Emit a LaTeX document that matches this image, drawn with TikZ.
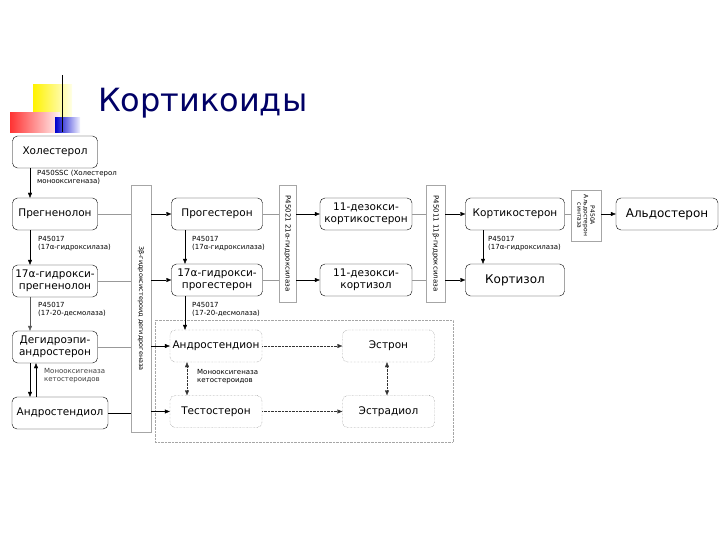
\documentclass[tikz,border=0pt]{standalone}
\usepackage{fontspec}
\setmainfont{DejaVu Sans}
\usetikzlibrary{arrows.meta}
\begin{document}
\begin{tikzpicture}[x=1pt,y=-1pt,
 box/.style={draw,rounded corners=5pt,minimum width=#1,minimum height=32pt,inner sep=1pt,align=center,font=\fontsize{10.5}{11.5}\selectfont},
 box/.default=90pt,
 dbox/.style={box=92pt,densely dotted,draw=gray!80!black},
 bar/.style={draw=gray!70,fill=white,inner sep=0pt},
 lab/.style={font=\fontsize{7}{8}\selectfont,align=left,anchor=north west,inner sep=0pt},
 ln/.style={draw=gray!80},
 ar/.style={-{Triangle[length=5pt,width=4pt]},black},
 dar/.style={{Triangle[length=5pt,width=4pt]}-{Triangle[length=5pt,width=4pt]},densely dotted,gray!40!black},
 dra/.style={-{Triangle[length=5pt,width=4pt]},densely dotted,gray!40!black}]
\useasboundingbox (0,0) rectangle (720,540);
% decoration
\shade[left color=yellow!90!orange,right color=yellow!10] (33,85) rectangle (72,120);
\shade[left color=red!80,right color=red!5] (10,113) rectangle (60,133);
\shade[left color=blue!80!black,right color=blue!5] (55,118) rectangle (80,133);
\draw[black,line width=0.8pt] (62,75) -- (62,132);
\node[anchor=west,text=blue!40!black,font=\fontsize{32}{36}\selectfont,inner sep=0pt] (title) at (98,103) {Кортикоиды};
% left column
\node[box=85pt] (chol) at (55,152) {Холестерол};
\node[box=85pt] (preg) at (55,214) {Прегненолон};
\node[box=85pt] (ohpreg) at (55,281) {17α-гидрокси-\\прегненолон};
\node[box=85pt] (dhea) at (55,347) {Дегидроэпи-\\андростерон};
\node[box=96pt] (adiol) at (60,413) {Андростендиол};
% bars
\node[bar,minimum width=20pt,minimum height=247pt] (b3) at (141,308.5) {};
\node[rotate=-90,font=\fontsize{6.5}{7}\selectfont] at (b3) {3β-гидроксистероид дегидрогеназа};
\node[bar,minimum width=17pt,minimum height=117pt] (b21) at (287.5,243.5) {};
\node[rotate=-90,font=\fontsize{7}{8}\selectfont] at (b21) {P45021 21α-гидроксилаза};
\node[bar,minimum width=19pt,minimum height=117pt] (b11) at (435.5,243.5) {};
\node[rotate=-90,font=\fontsize{7}{8}\selectfont] at (b11) {P45011 11β-гидроксилаза};
\node[bar,minimum width=30pt,minimum height=51pt] (ba) at (586,215.5) {};
\node[rotate=-90,font=\fontsize{6}{6.5}\selectfont,align=center] at (ba) {P450A\\Альдостерон\\синтаза};
% middle
\node[box=91pt] (prog) at (217,214) {Прогестерон};
\node[box=91pt] (ohprog) at (217,280) {17α-гидрокси-\\прогестерон};
\node[box=92pt] (doc) at (366,214) {11-дезокси-\\кортикостерон};
\node[box=92pt] (dcort) at (366,280) {11-дезокси-\\кортизол};
\node[box=99pt] (cortc) at (515,214) {Кортикостерон};
\node[box=99pt,font=\fontsize{12}{13}\selectfont] (cortisol) at (515,280) {Кортизол};
\node[box=102pt,font=\fontsize{12}{13}\selectfont] (aldo) at (667,214) {Альдостерон};
% sex steroids
\node[draw=gray!70,densely dotted,minimum width=298pt,minimum height=122pt,inner sep=0pt] (sexbox) at (304,381) {};
\node[dbox] (adione) at (216,346) {Андростендион};
\node[dbox=93pt] (estrone) at (388.5,346) {Эстрон};
\node[dbox] (testo) at (216,411.5) {Тестостерон};
\node[dbox=93pt] (estradiol) at (388.5,411.5) {Эстрадиол};
% vertical arrows left
\draw[ar] (chol.south -| 30,0) -- (preg.north -| 30,0);
\draw[ar] (preg.south -| 30,0) -- (ohpreg.north -| 30,0);
\draw[ar,gray!70!black] (ohpreg.south -| 30,0) -- (dhea.north -| 30,0);
\draw[ar] (dhea.south -| 30,0) -- (adiol.north -| 30,0);
\draw[ar] (adiol.north -| 36,0) -- (dhea.south -| 36,0);
\node[lab] (l1) at (37,170) {P450SSC (Холестерол\\монооксигеназа)};
\node[lab] (l2) at (38,236) {P45017\\(17α-гидроксилаза)};
\node[lab] (l3) at (38,302) {P45017\\(17-20-десмолаза)};
\node[lab,text=gray!50!black] (l4) at (44,368) {Монооксигеназа\\кетостероидов};
% left to bar to middle
\draw[ln] (preg.east) -- (b3.west |- preg.east);
\draw[ar] (b3.east |- prog.west) -- (prog.west);
\draw[ln] (ohpreg.east) -- (b3.west |- ohpreg.east);
\draw[ar] (b3.east |- ohprog.west) -- (ohprog.west);
\draw[ln] (dhea.east) -- (b3.west |- dhea.east);
\draw[ar] (b3.east |- adione.west) -- (adione.west);
\draw[black] (adiol.east) -- (b3.west |- adiol.east);
\draw[ar] (b3.east |- testo.west) -- (testo.west);
% middle verticals
\draw[ar] (prog.south -| 185,0) -- (ohprog.north -| 185,0);
\draw[ar] (ohprog.south -| 185,0) -- (adione.north -| 185,0);
\node[lab] (l5) at (192,236) {P45017\\(17α-гидроксилаза)};
\node[lab] (l6) at (192,302) {P45017\\(17-20-десмолаза)};
\draw[dar] (adione.south -| 187,0) -- (testo.north -| 187,0);
\node[lab] (l7) at (197,369) {Монооксигеназа\\кетостероидов};
\draw[dar] (estrone.south -| 387,0) -- (estradiol.north -| 387,0);
\draw[dra] (adione.east) -- (estrone.west);
\draw[dra] (testo.east) -- (estradiol.west);
% to the right
\draw[ln] (prog.east) -- (b21.west |- prog.east);
\draw[ar] (b21.east |- doc.west) -- (doc.west);
\draw[ln] (ohprog.east) -- (b21.west |- ohprog.east);
\draw[ar] (b21.east |- dcort.west) -- (dcort.west);
\draw[ln] (doc.east) -- (b11.west |- doc.east);
\draw[ar] (b11.east |- cortc.west) -- (cortc.west);
\draw[ln] (dcort.east) -- (b11.west |- dcort.east);
\draw[ar] (b11.east |- cortisol.west) -- (cortisol.west);
\draw[ln] (cortc.east) -- (ba.west |- cortc.east);
\draw[ar] (ba.east |- aldo.west) -- (aldo.west);
\draw[ar] (cortc.south -| 483,0) -- (cortisol.north -| 483,0);
\node[lab] (l8) at (488,236) {P45017\\(17α-гидроксилаза)};
\end{tikzpicture}
\end{document}
